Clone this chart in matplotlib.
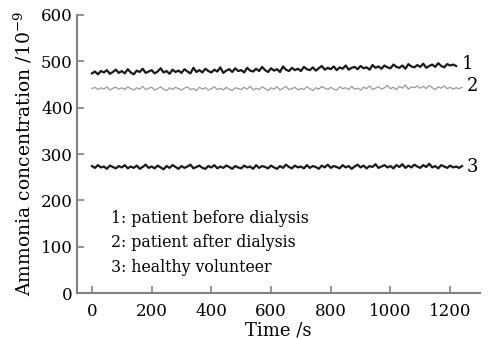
import numpy as np
import matplotlib
matplotlib.use('Agg')
import matplotlib.pyplot as plt

plt.rcParams['font.family'] = 'DejaVu Serif'
plt.rcParams['mathtext.fontset'] = 'dejavuserif'

before_dialysis = [474, 478, 472, 479, 476, 481, 473, 477, 482, 475,
                   479, 474, 483, 476, 472, 480, 477, 484, 475, 478,
                   481, 474, 478, 485, 476, 479, 473, 482, 477, 480,
                   475, 483, 478, 474, 486, 477, 481, 476, 484, 479,
                   476, 482, 478, 487, 475, 480, 483, 477, 485, 479,
                   481, 476, 486, 480, 478, 484, 479, 488, 481, 477,
                   485, 480, 483, 477, 489, 482, 479, 486, 481, 484,
                   479, 488, 483, 481, 487, 480, 485, 490, 482, 486,
                   483, 489, 481, 487, 484, 491, 482, 486, 488, 483,
                   490, 485, 487, 482, 492, 486, 489, 484, 491, 487,
                   485, 493, 488, 486, 491, 484, 494, 489, 487, 492,
                   488, 495, 486, 490, 493, 488, 496, 490, 487, 494,
                   491, 493, 490]
after_dialysis = [441, 444, 439, 443, 440, 445, 438, 442, 444, 440,
                  443, 439, 445, 441, 438, 443, 440, 446, 439, 442,
                  444, 438, 441, 445, 440, 437, 443, 439, 444, 441,
                  438, 442, 445, 439, 441, 437, 444, 440, 443, 438,
                  441, 445, 439, 442, 438, 444, 440, 437, 443, 441,
                  439, 444, 440, 446, 438, 442, 439, 445, 441, 437,
                  443, 440, 445, 438, 442, 446, 439, 441, 444, 438,
                  442, 439, 445, 441, 437, 443, 440, 446, 442, 439,
                  444, 440, 438, 445, 441, 443, 439, 446, 440, 442,
                  438, 444, 441, 447, 439, 442, 445, 440, 443, 448,
                  441, 444, 439, 446, 442, 449, 440, 445, 443, 447,
                  442, 446, 441, 448, 443, 439, 445, 442, 447, 441,
                  444, 440, 443, 441, 444]
healthy = [274, 270, 276, 271, 273, 268, 275, 272, 269, 274,
           271, 276, 269, 273, 270, 275, 268, 272, 277, 270,
           273, 269, 275, 271, 267, 274, 270, 276, 272, 268,
           274, 270, 273, 277, 269, 272, 275, 270, 268, 274,
           271, 276, 269, 273, 270, 275, 272, 268, 274, 271,
           269, 275, 271, 273, 268, 276, 270, 274, 272, 269,
           275, 271, 268, 274, 270, 277, 272, 269, 275, 271,
           273, 269, 276, 270, 274, 272, 268, 275, 271, 277,
           270, 274, 272, 269, 276, 271, 274, 268, 273, 277,
           271, 275, 269, 274, 272, 278, 270, 273, 276, 271,
           274, 269, 276, 272, 278, 270, 275, 271, 277, 273,
           270, 276, 272, 279, 271, 274, 269, 276, 273, 270,
           275, 271, 273, 270, 274]

t1 = np.arange(len(before_dialysis)) * 10
t2 = np.arange(len(after_dialysis)) * 10
t3 = np.arange(len(healthy)) * 10

fig = plt.figure(figsize=(4.89, 3.40), dpi=100)
ax = fig.add_axes([0.1575, 0.1382, 0.8241, 0.8177])

ax.plot(t1, before_dialysis, color='#1a1a1a', lw=1.6)
ax.plot(t2, after_dialysis, color='#999999', lw=0.9)
ax.plot(t3, healthy, color='#1a1a1a', lw=1.6)

# curve numbers at the right end
ax.text(1238, 495, '1', fontsize=13, va='center')
ax.text(1255, 446, '2', fontsize=13, va='center')
ax.text(1255, 273, '3', fontsize=13, va='center')

ax.text(65, 108, '1: patient before dialysis\n2: patient after dialysis\n3: healthy volunteer',
        fontsize=11.3, va='center', linespacing=1.55)

ax.set_xlim(-50, 1300)
ax.set_ylim(0, 600)
ax.set_xticks(np.arange(0, 1201, 200))
ax.set_yticks(np.arange(0, 601, 100))

for s in ['top', 'right']:
    ax.spines[s].set_visible(False)
for s in ['left', 'bottom']:
    ax.spines[s].set_color('#808080')
    ax.spines[s].set_linewidth(1.5)
ax.tick_params(direction='in', length=5, width=1.2, color='#808080', labelsize=12)
ax.tick_params(axis='x', pad=7)
ax.tick_params(axis='y', pad=3)

ax.set_xlabel('Time /s', fontsize=13, labelpad=1)
ax.set_ylabel(r'Ammonia concentration /10$^{-9}$', fontsize=13.5, labelpad=5)

fig.savefig('out.png', dpi=100)
